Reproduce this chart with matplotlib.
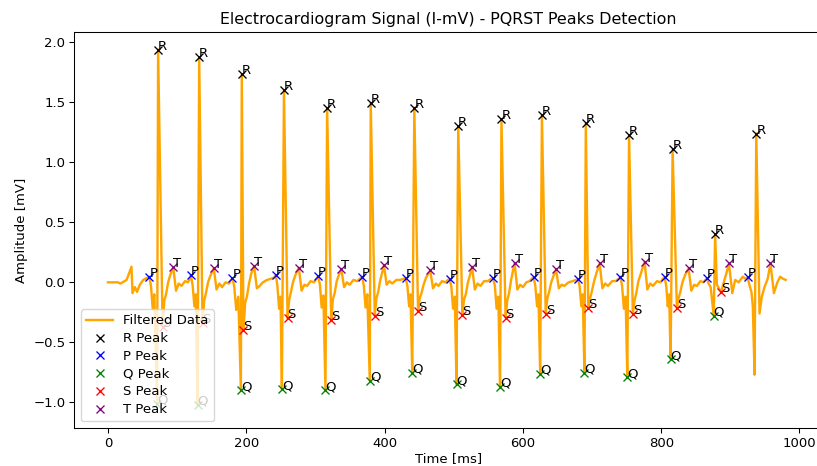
import numpy as np
import matplotlib
matplotlib.use("Agg")
import matplotlib.pyplot as plt

# ---- Peak data (time in ms, amplitude in mV) ----
r_t = [72.5, 131.9, 193.5, 254.5, 316.9, 380.0, 443.0, 506.5, 569.0, 627.5, 691.0, 753.5, 816.5, 878.0, 937.5]
r_v = [1.94, 1.875, 1.733, 1.60, 1.455, 1.497, 1.455, 1.30, 1.358, 1.395, 1.325, 1.227, 1.108, 0.40, 1.24]

p_t = [59.7, 120.0, 180.0, 242.8, 304.0, 367.6, 430.6, 494.0, 557.0, 615.6, 679.6, 741.0, 805.0, 866.0, 925.0]
p_v = [0.047, 0.06, 0.033, 0.06, 0.052, 0.047, 0.033, 0.025, 0.033, 0.042, 0.025, 0.047, 0.042, 0.033, 0.042]

q_t = [71.0, 129.5, 192.2, 251.5, 314.5, 378.6, 440.0, 504.0, 567.0, 625.0, 689.0, 751.0, 813.6, 876.0]
q_v = [-1.01, -1.02, -0.898, -0.89, -0.898, -0.82, -0.753, -0.85, -0.87, -0.76, -0.753, -0.79, -0.64, -0.28]

s_t = [79.0, 136.7, 195.9, 259.7, 322.8, 385.8, 448.4, 512.5, 575.0, 633.0, 694.5, 759.0, 822.7, 886.7]
s_v = [-0.37, -0.34, -0.40, -0.30, -0.314, -0.28, -0.24, -0.27, -0.295, -0.26, -0.217, -0.264, -0.217, -0.083]

tw_t = [94.4, 153.0, 211.3, 276.0, 337.4, 399.0, 466.0, 526.5, 588.0, 648.0, 711.0, 776.0, 839.6, 898.0, 958.0]
tw_v = [0.125, 0.117, 0.136, 0.122, 0.112, 0.144, 0.10, 0.13, 0.162, 0.108, 0.158, 0.172, 0.117, 0.158, 0.158]

# ---- Other vertices of the filtered signal ----
base_t = [0, 14, 18, 27, 34, 35.5, 39, 42, 46, 51,
          62.2, 64.7, 67, 81.5, 84, 87, 90, 98.4, 102.4, 106.4, 111.4, 115.4, 118.4,
          122.5, 125, 127, 139.2, 141.7, 144.7, 147.7, 157, 161, 165, 170, 175, 178,
          182.5, 185.5, 188.5, 198.4, 200.9, 204, 207, 215.3, 219.3, 224, 230, 236, 240,
          245, 247.5, 249.5, 262, 264.5, 267.5, 271, 280, 284, 288, 293, 298, 301.5,
          306.5, 309, 311.5, 325.3, 327.8, 330.8, 333.8, 341.4, 345.4, 349.4, 355, 360, 364.5,
          370, 372.5, 375, 388.3, 390.8, 393.8, 396.5, 403, 407, 411, 417, 423, 427.5,
          433, 435.5, 437.5, 450.9, 453.4, 456.4, 460, 470, 474, 478, 483, 488, 491.5,
          496.5, 499, 501.5, 515, 517.5, 520.5, 523.5, 530.5, 534.5, 538.5, 544, 549, 554,
          559.5, 562, 564.5, 577.5, 580, 583, 585.5, 592, 596, 600, 605, 609.5, 613,
          618, 620.5, 622.5, 635.5, 638, 641, 644, 652, 656, 660, 666, 672, 677,
          682, 684.5, 686.5, 697, 699.5, 703, 706.5, 715, 719, 723, 729, 734, 738.5,
          743.5, 746, 748.5, 761.5, 764, 767, 771, 780, 784, 788, 794, 799, 802.5,
          807.3, 809.5, 811.5, 825.2, 827.7, 830.7, 834.5, 843.6, 847.6, 851.6, 856.6, 861, 864,
          868.5, 871.5, 880.5, 889, 892, 895, 902.8, 907, 912, 918, 922,
          927.5, 930.5, 932.5, 935, 942.2, 945.5, 949.4, 954, 963, 968, 972, 976, 980]
base_v = [0, 0, -0.01, 0.02, 0.13, -0.09, -0.04, -0.08, -0.02, 0.02,
          -0.03, -0.22, -0.10, -0.15, -0.10, 0.0, 0.06, -0.07, -0.01, -0.03, 0.01, 0.0, 0.03,
          -0.03, -0.20, -0.10, -0.15, -0.09, 0.0, 0.05, -0.06, -0.01, -0.04, 0.0, -0.01, 0.02,
          -0.03, -0.23, -0.12, -0.17, -0.12, -0.01, 0.07, -0.05, -0.03, 0.0, 0.02, 0.03, 0.04,
          -0.03, -0.22, -0.12, -0.15, -0.08, 0.0, 0.06, -0.07, -0.02, -0.03, 0.01, 0.0, 0.03,
          -0.02, -0.21, -0.11, -0.14, -0.09, 0.01, 0.06, -0.04, 0.0, -0.02, 0.02, 0.01, 0.03,
          -0.03, -0.21, -0.10, -0.13, -0.08, 0.02, 0.08, -0.02, 0.01, -0.01, 0.02, 0.02, 0.03,
          -0.03, -0.20, -0.10, -0.13, -0.09, -0.02, 0.04, -0.05, -0.01, -0.03, 0.01, 0.0, 0.02,
          -0.03, -0.22, -0.12, -0.14, -0.10, 0.0, 0.06, -0.06, -0.01, -0.03, 0.01, 0.01, 0.03,
          -0.03, -0.22, -0.12, -0.15, -0.09, 0.02, 0.09, -0.06, -0.02, -0.04, 0.0, 0.01, 0.03,
          -0.03, -0.20, -0.10, -0.13, -0.08, 0.0, 0.05, -0.05, -0.02, -0.03, 0.0, 0.01, 0.02,
          -0.03, -0.20, -0.10, -0.14, -0.08, 0.01, 0.08, -0.05, -0.01, -0.03, 0.01, 0.01, 0.03,
          -0.03, -0.22, -0.12, -0.15, -0.09, 0.01, 0.08, -0.06, -0.01, -0.03, 0.01, 0.0, 0.03,
          -0.03, -0.20, -0.10, -0.13, -0.08, 0.0, 0.06, -0.07, -0.02, -0.03, 0.01, 0.0, 0.02,
          -0.01, -0.04, -0.02, -0.03, 0.03, 0.09, -0.09, 0.02, 0.0, 0.047, 0.03,
          -0.02, -0.08, -0.20, -0.77, -0.26, -0.12, -0.04, 0.03, -0.09, 0.0, 0.047, 0.03, 0.02]

# Build the signal from all read vertices, ordered by time
sig_t = np.array(base_t + p_t + q_t + r_t + s_t + tw_t, dtype=float)
sig_v = np.array(base_v + p_v + q_v + r_v + s_v + tw_v, dtype=float)
order = np.argsort(sig_t, kind="stable")
sig_t, sig_v = sig_t[order], sig_v[order]

DPI = 95
W, H = 818, 466
fig = plt.figure(figsize=(W / DPI, H / DPI), dpi=DPI)
ax = fig.add_axes([74.5 / W, 38 / H, (822 - 74.5) / W, 396 / H])

ax.plot(sig_t, sig_v, color="orange", lw=1.8, label="Filtered Data")
ax.plot(r_t, r_v, "x", color="black", ms=5.5, label="R Peak")
ax.plot(p_t, p_v, "x", color="blue", ms=5.5, label="P Peak")
ax.plot(q_t, q_v, "x", color="green", ms=5.5, label="Q Peak")
ax.plot(s_t, s_v, "x", color="red", ms=5.5, label="S Peak")
ax.plot(tw_t, tw_v, "x", color="purple", ms=5.5, label="T Peak")

for xs, ys, lab in [(r_t, r_v, "R"), (p_t, p_v, "P"), (q_t, q_v, "Q"),
                    (s_t, s_v, "S"), (tw_t, tw_v, "T")]:
    for x, y in zip(xs, ys):
        ax.text(x, y, lab, fontsize=10)

ax.set_xlim(-48.4, (822 - 108) / 0.6915)
ax.set_ylim(-1.214, 2.086)
ax.set_xticks([0, 200, 400, 600, 800, 1000])
ax.set_yticks([-1.0, -0.5, 0.0, 0.5, 1.0, 1.5, 2.0])
ax.spines["right"].set_visible(False)
ax.set_title("Electrocardiogram Signal (I-mV) - PQRST Peaks Detection")
ax.set_xlabel("Time [ms]", labelpad=1)
ax.set_ylabel("Amplitude [mV]")
ax.legend(loc="lower left", labelspacing=0.36)

fig.savefig("out.png", dpi=DPI)
